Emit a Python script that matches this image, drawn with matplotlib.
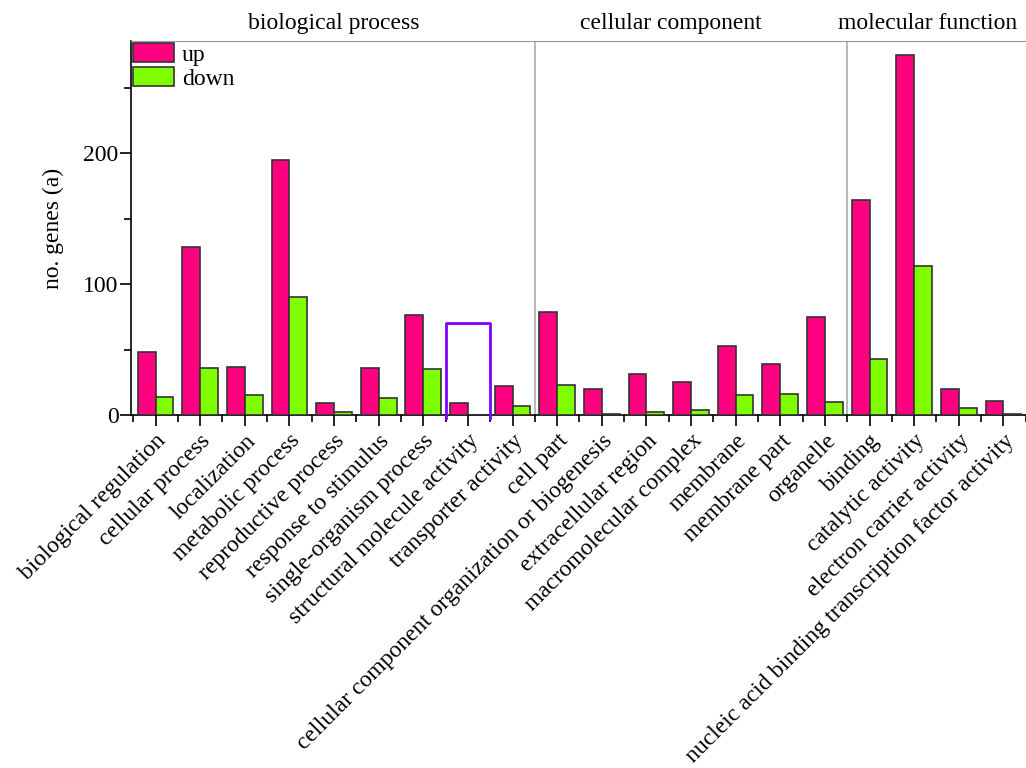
import numpy as np
import matplotlib.pyplot as plt

plt.rcParams['font.family'] = ['Liberation Serif', 'DejaVu Serif']

# GO terms, grouped by ontology
terms = [
    'biological regulation', 'cellular process', 'localization',
    'metabolic process', 'reproductive process', 'response to stimulus',
    'single-organism process', 'structural molecule activity',
    'transporter activity',
    'cell part', 'cellular component organization or biogenesis',
    'extracellular region', 'macromolecular complex', 'membrane',
    'membrane part', 'organelle',
    'binding', 'catalytic activity', 'electron carrier activity',
    'nucleic acid binding transcription factor activity',
]
up = [48, 128, 37, 195, 9, 36, 76, 9, 22,
      79, 20, 31, 25, 53, 39, 75,
      164, 275, 20, 11]
down = [14, 36, 15, 90, 2, 13, 35, 0, 7,
        23, 1, 2, 4, 15, 16, 10,
        43, 114, 5, 1]
groups = ['biological process', 'cellular component', 'molecular function']
group_sizes = [9, 7, 4]
highlight_idx = 7
highlight_val = 70.5

x = np.arange(len(terms))
w = 0.4
fs = 17

fig = plt.figure(figsize=(10.26, 7.68), dpi=100)
ax = fig.add_axes([0.1277, 0.4596, 0.872, 0.487])

# up bar sits left of the tick, down bar right of it
ax.bar(x - w, up, width=w, align='edge', color='#ff0080', edgecolor='#333333',
       linewidth=1.2, label='up', zorder=3)
ax.bar(x, down, width=w, align='edge', color='#80ff00', edgecolor='#333333',
       linewidth=1.2, label='down', zorder=3)

# open box around the highlighted term
hx = [highlight_idx - 0.5, highlight_idx - 0.5, highlight_idx + 0.5, highlight_idx + 0.5]
hy = [-2, highlight_val, highlight_val, -2]
ax.plot(hx, hy, color='#8000ff', lw=2, zorder=4, clip_on=False)

# separators between ontologies and group headers
bounds = np.cumsum(group_sizes)[:-1] - 0.5
for b in bounds:
    ax.axvline(b, color='#aaaaaa', lw=1.2, zorder=1)
header_x = [4, 11.55, 17.3]
for g, hxpos in zip(groups, header_x):
    ax.annotate(g, (hxpos, 1.0), xycoords=ax.get_xaxis_transform(),
                xytext=(0, 5), textcoords='offset points',
                ha='center', va='bottom', fontsize=fs)

ax.set_xlim(-0.55, 19.5)
ax.set_ylim(0, 285.5)

ax.set_xticks(x)
ax.set_xticks(np.arange(-0.5, 20, 1), minor=True)
ax.set_xticklabels(terms, rotation=45, ha='right', va='top',
                   rotation_mode='anchor', fontsize=fs)
ax.set_yticks([0, 100, 200])
ax.set_yticks([50, 150, 250], minor=True)
ax.tick_params(axis='both', which='major', length=8, width=1.2, labelsize=fs,
               direction='out')
ax.tick_params(axis='both', which='minor', length=5, width=1.2, direction='out')
ax.tick_params(axis='x', which='major', pad=3)
ax.tick_params(axis='y', which='major', pad=1)

ax.set_ylabel('no. genes (a)', fontsize=fs, labelpad=14)

ax.spines['right'].set_visible(False)
ax.spines['top'].set_color('#999999')
ax.spines['left'].set_linewidth(1.2)
ax.spines['bottom'].set_linewidth(1.2)

ax.legend(loc='upper left', bbox_to_anchor=(0.0, 1.0), frameon=False,
          fontsize=fs, handlelength=1.7, handleheight=0.85,
          labelspacing=0.05, handletextpad=0.35, borderpad=0.1,
          borderaxespad=0.0)

fig.savefig('out.png', dpi=100)
